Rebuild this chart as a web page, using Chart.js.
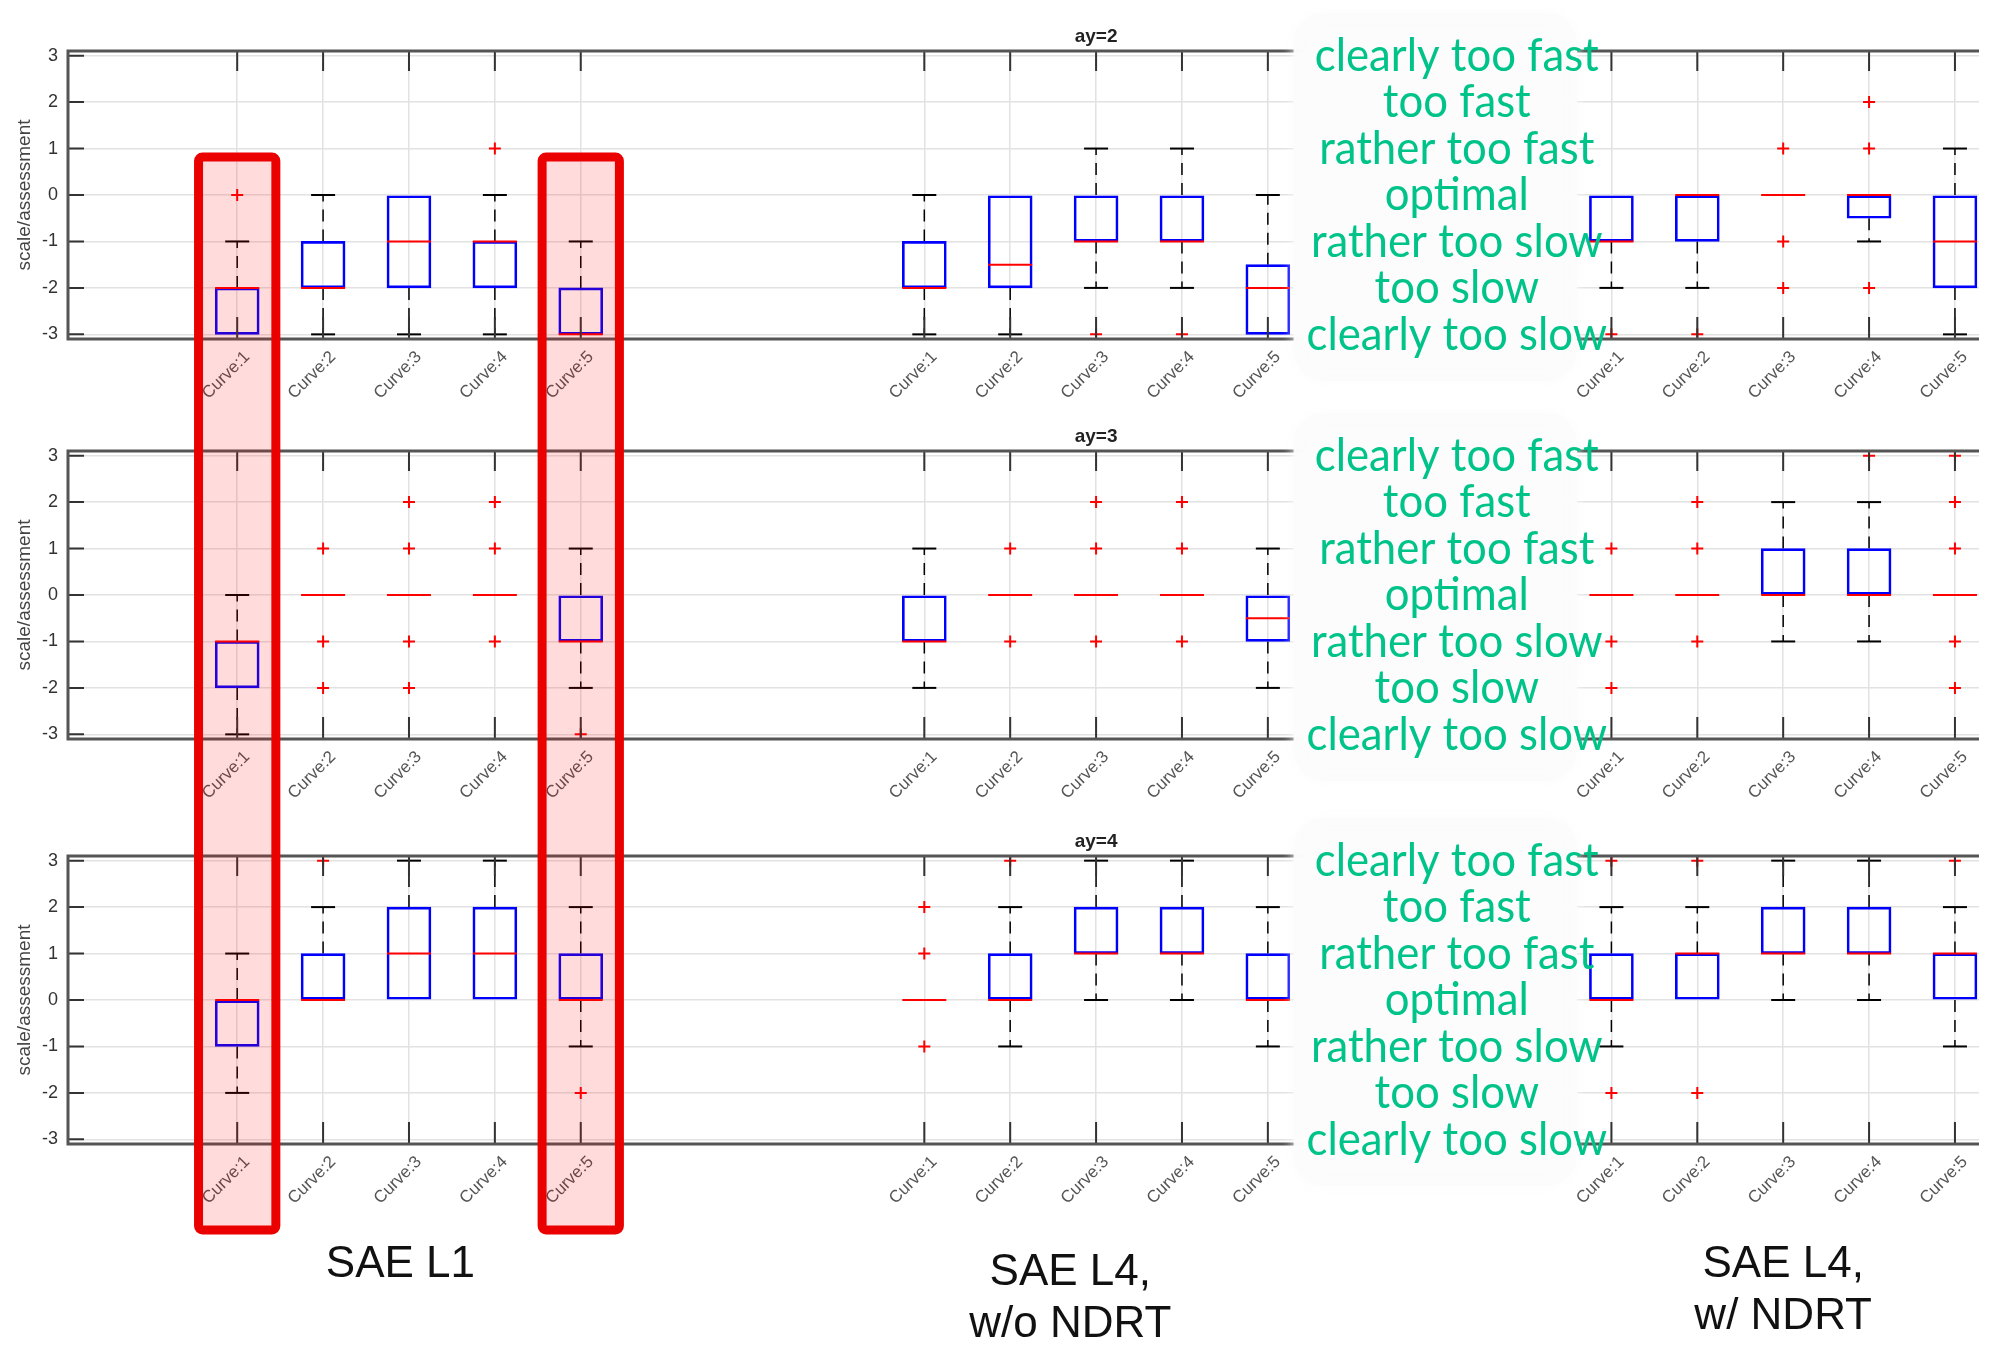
<!DOCTYPE html>
<html>
<head>
<meta charset="utf-8">
<title>Speed assessment boxplots</title>
<script src="https://cdn.jsdelivr.net/npm/chart.js@4.4.1/dist/chart.umd.min.js"></script>
<style>
    html, body { margin: 0; padding: 0; background: #fff; width: 2003px; height: 1349px; overflow: hidden; }
    .row { position: absolute; left: 0; }
    #overlay { position: absolute; left: 0; top: 0; pointer-events: none; }
</style>
</head>
<body>
<canvas id="row1" class="row" width="2003" height="420" style="top:0px"></canvas>
<canvas id="row2" class="row" width="2003" height="420" style="top:400px"></canvas>
<canvas id="row3" class="row" width="2003" height="420" style="top:805px"></canvas>
<canvas id="overlay" width="2003" height="1349"></canvas>
<script>
const curves = ['Curve:1', 'Curve:2', 'Curve:3', 'Curve:4', 'Curve:5'];
const positions = [1, 2, 3, 4, 5, 9, 10, 11, 12, 13, 17, 18, 19, 20, 21];
const groupNames = [['SAE L1'], ['SAE L4,', 'w/o NDRT'], ['SAE L4,', 'w/ NDRT']];
const ratings = ['clearly too fast', 'too fast', 'rather too fast', 'optimal', 'rather too slow', 'too slow', 'clearly too slow'];
const ratingValues = [3, 2, 1, 0, -1, -2, -3];
const yTicks = [-3, -2, -1, 0, 1, 2, 3];
const highlighted = [1, 5];

// ay=2
const ay2Low  = [-3, -3, -3, -3, -3,   -3, -3, -2, -2, -3,   -2, -2, 0, -1, -3];
const ay2Q1   = [-3, -2, -2, -2, -3,   -2, -2, -1, -1, -3,   -1, -1, 0, -0.5, -2];
const ay2Med  = [-2, -2, -1, -1, -3,   -2, -1.5, -1, -1, -2,  -1, 0, 0, 0, -1];
const ay2Q3   = [-2, -1, 0, -1, -2,    -1, 0, 0, 0, -1.5,     0, 0, 0, 0, 0];
const ay2High = [-1, 0, 0, 0, -1,      0, 0, 1, 1, 0,         0, 0, 0, 0, 1];
const ay2Out  = [[0], [], [], [1], [],  [], [], [-3], [-3], [],  [-3], [-3], [1, -1, -2], [2, 1, -2], []];

// ay=3
const ay3Low  = [-3, 0, 0, 0, -2,   -2, 0, 0, 0, -2,     0, 0, -1, -1, 0];
const ay3Q1   = [-2, 0, 0, 0, -1,   -1, 0, 0, 0, -1,     0, 0, 0, 0, 0];
const ay3Med  = [-1, 0, 0, 0, -1,   -1, 0, 0, 0, -0.5,   0, 0, 0, 0, 0];
const ay3Q3   = [-1, 0, 0, 0, 0,    0, 0, 0, 0, 0,       0, 0, 1, 1, 0];
const ay3High = [0, 0, 0, 0, 1,     1, 0, 0, 0, 1,       0, 0, 2, 2, 0];
const ay3Out  = [[], [1, -1, -2], [2, 1, -1, -2], [2, 1, -1], [-3],
                 [], [1, -1], [2, 1, -1], [2, 1, -1], [],
                 [1, -1, -2], [2, 1, -1], [], [3], [3, 2, 1, -1, -2]];

// ay=4
const ay4Low  = [-2, 0, 0, 0, -1,   0, -1, 0, 0, -1,   -1, 0, 0, 0, -1];
const ay4Q1   = [-1, 0, 0, 0, 0,    0, 0, 1, 1, 0,     0, 0, 1, 1, 0];
const ay4Med  = [0, 0, 1, 1, 0,     0, 0, 1, 1, 0,     0, 1, 1, 1, 1];
const ay4Q3   = [0, 1, 2, 2, 1,     0, 1, 2, 2, 1,     1, 1, 2, 2, 1];
const ay4High = [1, 2, 3, 3, 2,     0, 2, 3, 3, 2,     2, 2, 3, 3, 2];
const ay4Out  = [[], [3], [], [], [-2],
                 [2, 1, -1], [3], [], [], [],
                 [3, -2], [3, -2], [], [], [3]];

const rows = [
    { id: 'row1', title: 'ay=2', low: ay2Low, q1: ay2Q1, med: ay2Med, q3: ay2Q3, high: ay2High, out: ay2Out },
    { id: 'row2', title: 'ay=3', low: ay3Low, q1: ay3Q1, med: ay3Med, q3: ay3Q3, high: ay3High, out: ay3Out },
    { id: 'row3', title: 'ay=4', low: ay4Low, q1: ay4Q1, med: ay4Med, q3: ay4Q3, high: ay4High, out: ay4Out }
];

const GREEN = '#00c389';

// MATLAB style frame, inward ticks, title and the green rating legend
const matlabFrame = {
    id: 'matlabFrame',
    afterDraw(chart, args, opts) {
        const ctx = chart.ctx;
        const { left, right, top, bottom } = chart.chartArea;
        const x = chart.scales.x;
        const y = chart.scales.y;
        ctx.save();

        ctx.strokeStyle = '#333';
        ctx.lineWidth = 2;
        ctx.beginPath();
        positions.forEach(function (v) {
            const px = x.getPixelForValue(v);
            ctx.moveTo(px, top);
            ctx.lineTo(px, top + 20);
            ctx.moveTo(px, bottom);
            ctx.lineTo(px, bottom - 22);
        });
        yTicks.forEach(function (v) {
            const py = y.getPixelForValue(v);
            ctx.moveTo(left, py);
            ctx.lineTo(left + 16, py);
        });
        ctx.stroke();

        ctx.strokeStyle = '#555';
        ctx.lineWidth = 3;
        ctx.beginPath();
        ctx.moveTo(right, top);
        ctx.lineTo(left, top);
        ctx.lineTo(left, bottom);
        ctx.lineTo(right, bottom);
        ctx.stroke();

        ctx.fillStyle = '#222';
        ctx.font = 'bold 19px "Liberation Sans"';
        ctx.textAlign = 'center';
        ctx.textBaseline = 'alphabetic';
        ctx.fillText(opts.title, x.getPixelForValue(11), top - 9);

        // white label panel
        const bx0 = x.getPixelForValue(13.3);
        const bx1 = x.getPixelForValue(16.6);
        const by0 = top - 38;
        const by1 = bottom + 42;
        ctx.fillStyle = 'rgba(252,252,252,0.95)';
        ctx.shadowColor = 'rgba(252,252,252,1)';
        ctx.shadowBlur = 12;
        ctx.beginPath();
        ctx.roundRect(bx0, by0, bx1 - bx0, by1 - by0, 30);
        ctx.fill();
        ctx.shadowBlur = 0;

        ctx.font = '47px Lato';
        const squeeze = 284 / ctx.measureText(ratings[0]).width;
        const cx = x.getPixelForValue(15.2);
        ctx.fillStyle = GREEN;
        ctx.textAlign = 'center';
        ctx.textBaseline = 'middle';
        ratings.forEach(function (label, i) {
            ctx.save();
            ctx.translate(cx, y.getPixelForValue(ratingValues[i]));
            ctx.scale(squeeze, 1);
            ctx.fillText(label, 0, 0);
            ctx.restore();
        });
        ctx.restore();
    }
};

function buildChart(row) {
    const boxes = [], medians = [], caps = [], whiskers = [], outliers = [];
    positions.forEach(function (x, i) {
        boxes.push({ x: x, y: [row.q1[i], row.q3[i]] });
        medians.push({ x: x, y: row.med[i] });
        if (row.high[i] > row.q3[i]) {
            whiskers.push({ x: x, y: row.q3[i] }, { x: x, y: row.high[i] }, { x: x, y: null });
            caps.push({ x: x, y: row.high[i] });
        }
        if (row.low[i] < row.q1[i]) {
            whiskers.push({ x: x, y: row.q1[i] }, { x: x, y: row.low[i] }, { x: x, y: null });
            caps.push({ x: x, y: row.low[i] });
        }
        row.out[i].forEach(function (v) {
            outliers.push({ x: x, y: v });
        });
    });

    return new Chart(document.getElementById(row.id), {
        type: 'bar',
        data: {
            datasets: [
                {
                    type: 'line',
                    data: whiskers,
                    borderColor: '#000',
                    borderWidth: 1.5,
                    borderDash: [12, 8],
                    pointRadius: 0,
                    fill: false,
                    order: 5
                },
                {
                    type: 'scatter',
                    data: caps,
                    pointStyle: 'line',
                    pointRadius: 12,
                    borderColor: '#000',
                    pointBorderColor: '#000',
                    pointBorderWidth: 2,
                    order: 4
                },
                {
                    type: 'bar',
                    data: boxes,
                    borderColor: '#0000ff',
                    backgroundColor: 'rgba(0,0,0,0)',
                    borderWidth: 2,
                    borderSkipped: false,
                    barThickness: 44,
                    order: 3
                },
                {
                    type: 'scatter',
                    data: medians,
                    pointStyle: 'line',
                    pointRadius: 22,
                    borderColor: '#ff0000',
                    pointBorderColor: '#ff0000',
                    pointBorderWidth: 2,
                    order: 2
                },
                {
                    type: 'scatter',
                    data: outliers,
                    pointStyle: 'cross',
                    pointRadius: 6,
                    borderColor: '#ff0000',
                    pointBorderColor: '#ff0000',
                    pointBorderWidth: 2,
                    order: 1
                }
            ]
        },
        options: {
            responsive: false,
            animation: false,
            devicePixelRatio: 1,
            events: [],
            layout: {
                padding: { top: 51, left: 0, right: 0, bottom: 20 }
            },
            plugins: {
                legend: { display: false },
                tooltip: { enabled: false },
                matlabFrame: { title: row.title }
            },
            scales: {
                x: {
                    type: 'linear',
                    min: -0.97,
                    max: 21.28,
                    offset: false,
                    afterBuildTicks: function (axis) {
                        axis.ticks = positions.map(function (v) { return { value: v }; });
                    },
                    afterFit: function (axis) {
                        axis.height = 61;
                        axis.paddingLeft = 0;
                        axis.paddingRight = 0;
                    },
                    grid: { color: '#e2e2e2', lineWidth: 1.5, drawTicks: false, offset: false },
                    border: { display: false },
                    ticks: {
                        autoSkip: false,
                        minRotation: 45,
                        maxRotation: 45,
                        padding: 8,
                        labelOffset: 10,
                        color: '#555',
                        font: { family: 'Liberation Sans', size: 17 },
                        callback: function (value, index) {
                            return curves[index % 5];
                        }
                    }
                },
                y: {
                    min: -3.1,
                    max: 3.1,
                    afterBuildTicks: function (axis) {
                        axis.ticks = yTicks.map(function (v) { return { value: v }; });
                    },
                    afterFit: function (axis) {
                        axis.width = 68;
                    },
                    grid: { color: '#e2e2e2', lineWidth: 1.5, drawTicks: false },
                    border: { display: false },
                    ticks: {
                        padding: 10,
                        color: '#333',
                        font: { family: 'Liberation Sans', size: 18 }
                    },
                    title: {
                        display: true,
                        text: 'scale/assessment',
                        color: '#444',
                        font: { family: 'Liberation Sans', size: 19 },
                        padding: { top: 13, bottom: 0 }
                    }
                }
            }
        },
        plugins: [matlabFrame]
    });
}

const charts = rows.map(buildChart);

// highlight frames across all rows and the group captions
const overlay = document.getElementById('overlay');
const octx = overlay.getContext('2d');
const first = charts[0];
const last = charts[2];
const firstTop = first.canvas.offsetTop;
const lastTop = last.canvas.offsetTop;
const rectTop = firstTop + first.scales.y.getPixelForValue(0.82);
const rectBottom = lastTop + last.scales.y.getPixelForValue(-4.95);

highlighted.forEach(function (v) {
    const x0 = first.scales.x.getPixelForValue(v - 0.45);
    const x1 = first.scales.x.getPixelForValue(v + 0.45);
    octx.fillStyle = 'rgba(255,0,0,0.14)';
    octx.fillRect(x0, rectTop, x1 - x0, rectBottom - rectTop);
    octx.strokeStyle = 'rgb(235,0,0)';
    octx.lineWidth = 9;
    octx.beginPath();
    octx.roundRect(x0, rectTop, x1 - x0, rectBottom - rectTop, 4);
    octx.stroke();
});

const groupLabelX = [2.9, 10.7, 19];
const groupLabelY = [1265, 1273, 1265];
octx.fillStyle = '#111';
octx.font = '44px "Liberation Sans"';
octx.textAlign = 'center';
octx.textBaseline = 'middle';
groupNames.forEach(function (lines, g) {
    const gx = first.scales.x.getPixelForValue(groupLabelX[g]);
    lines.forEach(function (line, k) {
        octx.fillText(line, gx, groupLabelY[g] + k * 52);
    });
});
</script>
</body>
</html>
